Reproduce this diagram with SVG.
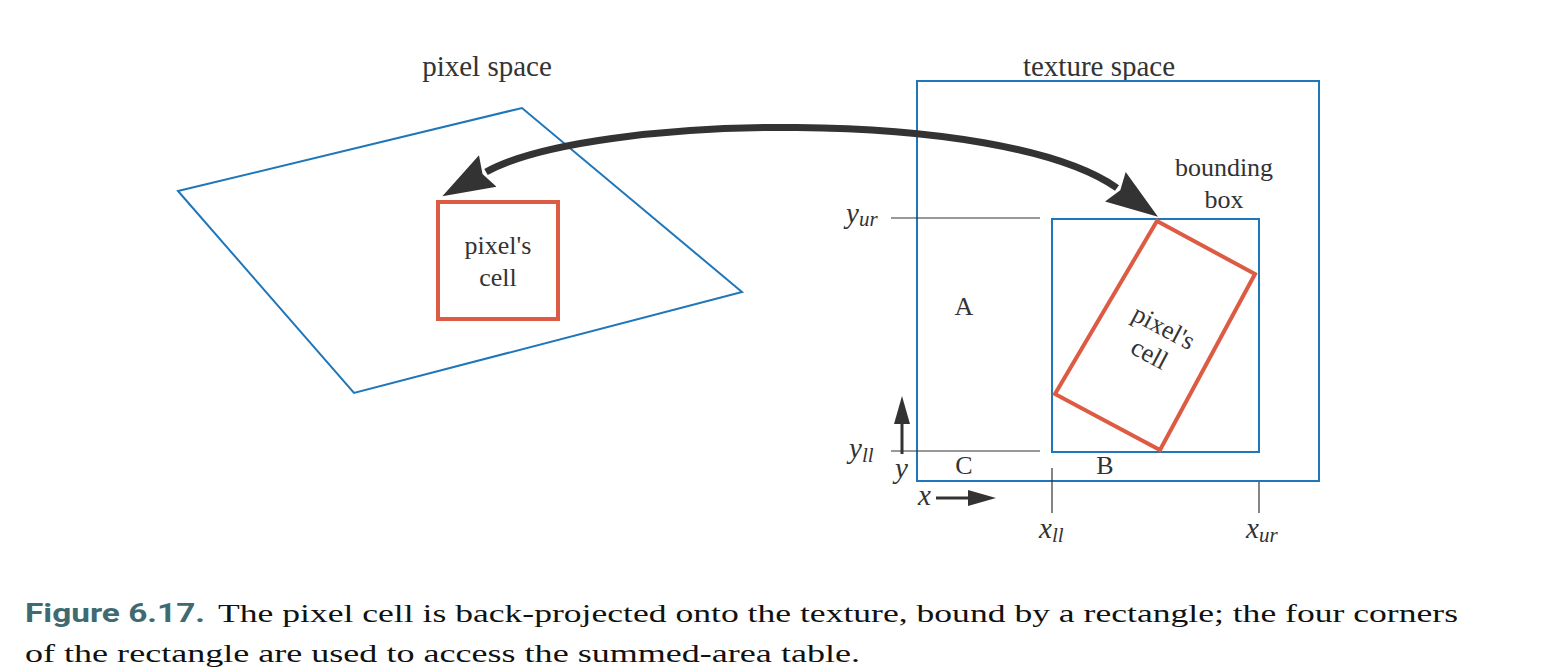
<svg xmlns="http://www.w3.org/2000/svg" width="1544" height="672" viewBox="0 0 1544 672">
<style>
.blue{fill:none;stroke:#1f77b9;stroke-width:2}
.red{fill:none;stroke:#dc5b42;stroke-width:4}
.thin{fill:none;stroke:#333;stroke-width:1.2}
.lbl{font-family:"Liberation Serif","Times New Roman",serif;fill:#333;font-size:29px;text-anchor:middle}
.sm{font-family:"Liberation Serif","Times New Roman",serif;fill:#333;font-size:26px;text-anchor:middle}
.it{font-family:"Liberation Serif","Times New Roman",serif;fill:#333;font-style:italic;font-size:29px}
.sub{font-size:21px}
.cap{font-family:"Liberation Serif","Times New Roman",serif;fill:#111;font-size:25px}
.capb{font-family:"Roboto","Liberation Sans",sans-serif;font-weight:bold;fill:#3f6a72;font-size:25px}
</style>
<defs>
<marker id="bigHead" markerUnits="userSpaceOnUse" markerWidth="60" markerHeight="40" refX="2" refY="18" orient="auto-start-reverse" viewBox="0 0 60 36">
<path d="M0,0 L52,18 L0,36 L6,18 z" fill="#333"/>
</marker>
<marker id="smallHead" markerUnits="userSpaceOnUse" markerWidth="30" markerHeight="20" refX="0" refY="8" orient="auto" viewBox="0 0 30 16">
<path d="M0,0 L28,8 L0,16 z" fill="#333"/>
</marker>
</defs>
<rect width="1544" height="672" fill="#fff"/>

<g id="pixel-space">
<text class="lbl" x="487" y="76">pixel space</text>
<polygon class="blue" points="178,191 522,108 742,292 354,393"/>
</g>
<g id="pixel-cell">
<rect class="red" x="438" y="202" width="120" height="117"/>
<text class="sm" x="498" y="254">pixel's</text>
<text class="sm" x="498" y="286">cell</text>
</g>

<g id="texture-space">
<text class="lbl" x="1099" y="76">texture space</text>
<rect class="blue" x="917" y="81" width="402" height="400"/>
<text class="sm" x="964" y="315">A</text>
<text class="sm" x="964" y="474">C</text>
<text class="sm" x="1105" y="474">B</text>
</g>

<g id="bounding-box">
<rect class="blue" x="1052" y="219" width="207" height="233"/>
<text class="sm" x="1224" y="176">bounding</text>
<text class="sm" x="1224" y="208">box</text>
</g>

<g id="texture-cell">
<polygon class="red" points="1157,221 1255,274 1160,450 1055,394"/>
<g transform="translate(1156,342) rotate(28)">
<text class="sm" x="0" y="-8">pixel's</text>
<text class="sm" x="0" y="22">cell</text>
</g>
</g>

<g id="axes">
<line class="thin" x1="891" y1="218" x2="1040" y2="218"/>
<line class="thin" x1="891" y1="451" x2="1040" y2="451"/>
<line class="thin" x1="1052" y1="468" x2="1052" y2="513"/>
<line class="thin" x1="1259" y1="482" x2="1259" y2="513"/>
<text class="it" x="846" y="223">y<tspan class="sub" dy="3">ur</tspan></text>
<text class="it" x="849" y="458">y<tspan class="sub" dy="4">ll</tspan></text>
<text class="it" x="1039" y="538">x<tspan class="sub" dy="4">ll</tspan></text>
<text class="it" x="1246" y="538">x<tspan class="sub" dy="4">ur</tspan></text>
<text class="it" x="895" y="478">y</text>
<text class="it" x="918" y="505">x</text>
</g>

<g id="connectors">
<path d="M486,172 C590,114 1000,106 1117,188" fill="none" stroke="#333" stroke-width="7" marker-start="url(#bigHead)" marker-end="url(#bigHead)"/>
<line x1="902" y1="454" x2="902" y2="424" stroke="#333" stroke-width="3" marker-end="url(#smallHead)"/>
<line x1="936" y1="498" x2="968" y2="498" stroke="#333" stroke-width="3" marker-end="url(#smallHead)"/>
</g>

<g id="caption">
<text class="capb" x="25" y="622" textLength="180" lengthAdjust="spacingAndGlyphs">Figure 6.17.</text>
<text class="cap" x="218" y="622" textLength="1240" lengthAdjust="spacingAndGlyphs">The pixel cell is back-projected onto the texture, bound by a rectangle; the four corners</text>
<text class="cap" x="25" y="662" textLength="835" lengthAdjust="spacingAndGlyphs">of the rectangle are used to access the summed-area table.</text>
</g>
</svg>
